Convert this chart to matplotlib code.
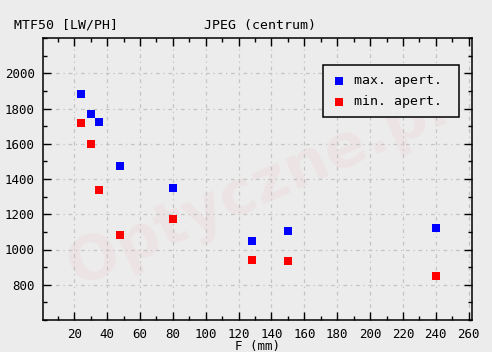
import matplotlib
matplotlib.use('Agg')
import matplotlib.pyplot as plt
from matplotlib.ticker import MultipleLocator

# focal lengths (mm) and MTF50 values
focal = [24, 30, 35, 48, 80, 128, 150, 240]
max_apert = [1885, 1766, 1721, 1476, 1347, 1051, 1107, 1123]
min_apert = [1715, 1600, 1336, 1081, 1172, 938, 932, 849]

x_ticks = list(range(20, 261, 20))
y_ticks = list(range(800, 2001, 200))

BG = '#ececec'
plt.rcParams['font.family'] = ['DejaVu Sans Mono']

fig = plt.figure(figsize=(4.92, 3.52), dpi=100)
fig.patch.set_facecolor(BG)
ax = fig.add_axes([43 / 492, 1 - 320 / 352, 429 / 492, 282 / 352])
ax.set_facecolor(BG)

# faint watermark
ax.text(0.5, 0.47, 'Optyczne.pl', transform=ax.transAxes, fontsize=44,
        fontweight='bold', color='#ff0000', alpha=0.035, rotation=24,
        ha='center', va='center', family='DejaVu Sans', zorder=0)

ax.scatter(focal, max_apert, marker='s', s=26, color='#0000ff',
           linewidths=0, label='max. apert. ', zorder=3)
ax.scatter(focal, min_apert, marker='s', s=26, color='#ff0000',
           linewidths=0, label='min. apert. ', zorder=3)

ax.set_xlim(1, 262)
ax.set_ylim(600, 2200)
ax.set_xticks(x_ticks)
ax.set_yticks(y_ticks)
ax.xaxis.set_minor_locator(MultipleLocator(10))
ax.yaxis.set_minor_locator(MultipleLocator(100))

ax.tick_params(which='both', direction='in', top=True, right=True,
               colors='black', labelsize=9)
ax.tick_params(which='major', length=6, width=1)
ax.tick_params(which='minor', length=3, width=1)
ax.tick_params(axis='y', pad=6)
ax.tick_params(axis='x', pad=6)

ax.grid(True, which='major', color='#c4c4c4', linewidth=0.9,
        linestyle=(0, (3, 3, 1, 3)))
ax.set_axisbelow(True)
for s in ax.spines.values():
    s.set_color('black')
    s.set_linewidth(1.1)

fig.text(14 / 492, 1 - 25 / 352, 'MTF50 [LW/PH]', fontsize=9.5,
         ha='left', va='center')
fig.text(260 / 492, 1 - 25 / 352, 'JPEG (centrum)', fontsize=9.5,
         ha='center', va='center')
ax.set_xlabel('F (mm)', fontsize=9, labelpad=-1)

leg = ax.legend(loc='upper right', bbox_to_anchor=(416 / 429, 1 - 27 / 282),
                fontsize=9.5, frameon=True, fancybox=False, markerscale=1.0,
                handletextpad=0.6, borderpad=0.7, labelspacing=0.6,
                handlelength=1.0, borderaxespad=0)
leg.get_frame().set_edgecolor('black')
leg.get_frame().set_facecolor(BG)
leg.get_frame().set_linewidth(1.1)
leg.get_frame().set_alpha(1)

fig.savefig('out.png', dpi=100, facecolor=BG)
